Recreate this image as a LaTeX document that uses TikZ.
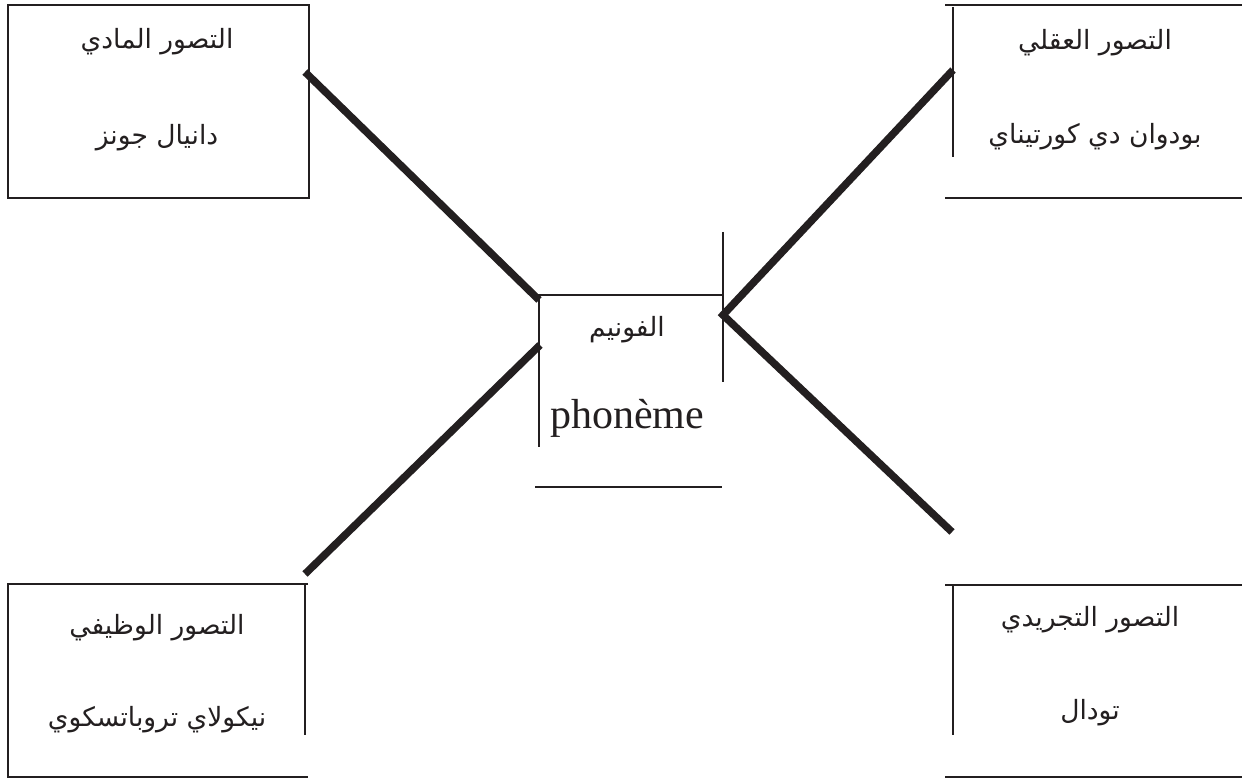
\documentclass[tikz,border=0pt]{standalone}
\usepackage{fontspec}
\TeXXeTstate=1
\newfontfamily\arabicfont[Script=Arabic]{DejaVu Sans}
\newfontfamily\latinfont{Liberation Serif}
\definecolor{ink}{HTML}{231F20}
\begin{document}
\begin{tikzpicture}[x=1pt,y=-1pt,
  frame/.style={draw=ink,line width=2pt},
  conn/.style={draw=ink,line width=7.5pt},
  ar/.style={font=\arabicfont\fontsize{26.5}{30}\selectfont,text=ink,inner sep=0pt},
  lat/.style={font=\latinfont\fontsize{42}{48}\selectfont,text=ink,inner sep=0pt}]
\useasboundingbox (0,0) rectangle (1242,778);

% top-left box
\draw[frame] (8,5) rectangle (309,198);
\node[ar] (tlA) at (157,42) {\beginR التصور المادي\endR};
\node[ar] (tlB) at (157,138) {\beginR دانيال جونز\endR};

% top-right box
\draw[frame] (945,5) -- (1242,5);
\draw[frame] (953,7) -- (953,157);
\draw[frame] (945,198) -- (1242,198);
\node[ar] (trA) at (1095,43) {\beginR التصور العقلي\endR};
\node[ar] (trB) at (1095,137) {\beginR بودوان دي كورتيناي\endR};

% centre box
\draw[frame] (535,295) -- (722,295);
\draw[frame] (539,295) -- (539,447);
\draw[frame] (723,232) -- (723,382);
\draw[frame] (535,487) -- (722,487);
\node[ar] (cA) at (627,330) {\beginR الفونيم\endR};
\node[lat] (cB) at (627,418) {phonème};

% bottom-left box
\draw[frame] (308,584) -- (8,584) -- (8,777) -- (308,777);
\draw[frame] (305,584) -- (305,735);
\node[ar] (blA) at (157,628) {\beginR التصور الوظيفي\endR};
\node[ar] (blB) at (157,720) {\beginR نيكولاي تروباتسكوي\endR};

% bottom-right box
\draw[frame] (945,585) -- (1242,585);
\draw[frame] (953,585) -- (953,735);
\draw[frame] (945,777) -- (1242,777);
\node[ar] (brA) at (1090,620) {\beginR التصور التجريدي\endR};
\node[ar] (brB) at (1090,713) {\beginR تودال\endR};

% connector end points
\coordinate (tlEnd) at (305,72);
\coordinate (trEnd) at (953,70);
\coordinate (blEnd) at (305,574);
\coordinate (brEnd) at (952,532);
\coordinate (cTL) at (539,300);
\coordinate (cBL) at (540,345);
\coordinate (cR) at (723,315);

\draw[conn] (tlEnd) -- (cTL);
\draw[conn] (blEnd) -- (cBL);
\draw[conn] (trEnd) -- (cR) -- (brEnd);
\end{tikzpicture}
\end{document}
